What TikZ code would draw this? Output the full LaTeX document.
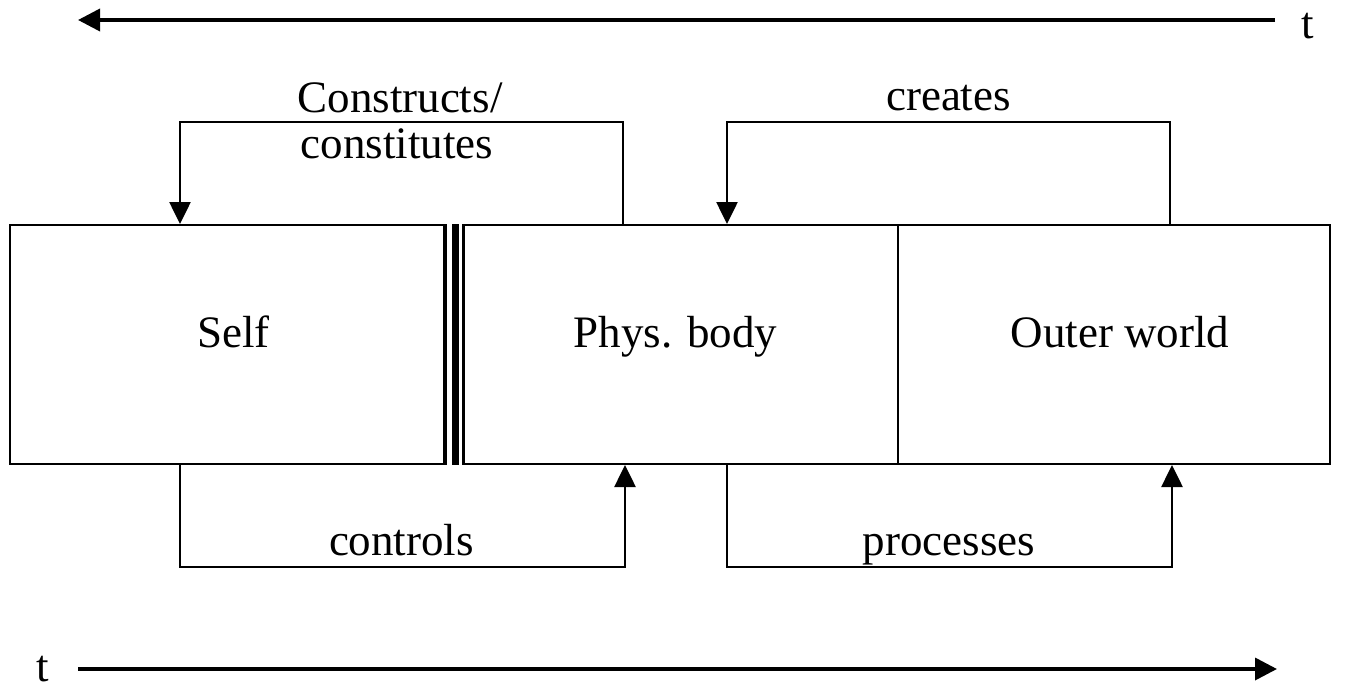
\documentclass[tikz,border=0pt]{standalone}
\usepackage{fontspec}
\setmainfont{Liberation Serif}
\usetikzlibrary{arrows.meta,calc}
\begin{document}
\begin{tikzpicture}[x=1pt,y=-1pt,
  box/.style={draw,line width=2pt,rectangle,minimum width=434pt,minimum height=239pt,inner sep=0pt,text height=30pt,text depth=25pt,font=\fontsize{45}{50}\selectfont},
  conn/.style={line width=2.6pt,-{Triangle[length=22pt,width=21pt]}},
  timeline/.style={line width=3.6pt,-{Triangle[length=22pt,width=22pt]}},
  lbl/.style={font=\fontsize{45}{45}\selectfont,inner sep=0pt,anchor=base}]
\useasboundingbox (0,0) rectangle (1345,691);
% boxes
\node[box] (self) at (227,344.5) {\hspace*{13pt}Self};
\node[box,minimum width=434pt] (phys) at (681,344.5) {Phys. body\hspace*{11pt}};
\node[box,minimum width=432pt] (outer) at (1114,344.5) {\hspace*{12pt}Outer world};
% triple separator
\draw[line width=3pt] (self.north east) -- (self.south east);
\draw[line width=7pt] ($(self.north east)+(10,0)$) -- ($(self.south east)+(10,0)$);
\draw[line width=3pt] (phys.north west) -- (phys.south west);
% top connectors
\coordinate (k1) at (623,122);
\coordinate (k2) at (180,122);
\draw[conn] (phys.north -| k1) -- (k1) -- (k2) -- (self.north -| k2);
\coordinate (k3) at (1170,122);
\coordinate (k4) at (727,122);
\draw[conn] (outer.north -| k3) -- (k3) -- (k4) -- (phys.north -| k4);
% bottom connectors
\coordinate (k5) at (180,567);
\coordinate (k6) at (625,567);
\draw[conn] (self.south -| k5) -- (k5) -- (k6) -- (phys.south -| k6);
\coordinate (k7) at (727,567);
\coordinate (k8) at (1172,567);
\draw[conn] (phys.south -| k7) -- (k7) -- (k8) -- (outer.south -| k8);
% labels
\node[lbl] (l1a) at (400,112) {Constructs/};
\node[lbl] (l1b) at (397,158) {constitutes};
\node[lbl] (l2) at (948.5,110) {creates};
\node[lbl] (l3) at (401.5,555) {controls};
\node[lbl] (l4) at (949,555) {processes};
% time arrows
\node[lbl] (t1) at (1308,38) {t};
\coordinate (a1) at (1275,20);
\coordinate (a2) at (78,20);
\draw[timeline] (a1) -- (a2);
\node[lbl] (t2) at (43,681) {t};
\coordinate (b1) at (78,669);
\coordinate (b2) at (1277,669);
\draw[timeline] (b1) -- (b2);
\end{tikzpicture}
\end{document}
